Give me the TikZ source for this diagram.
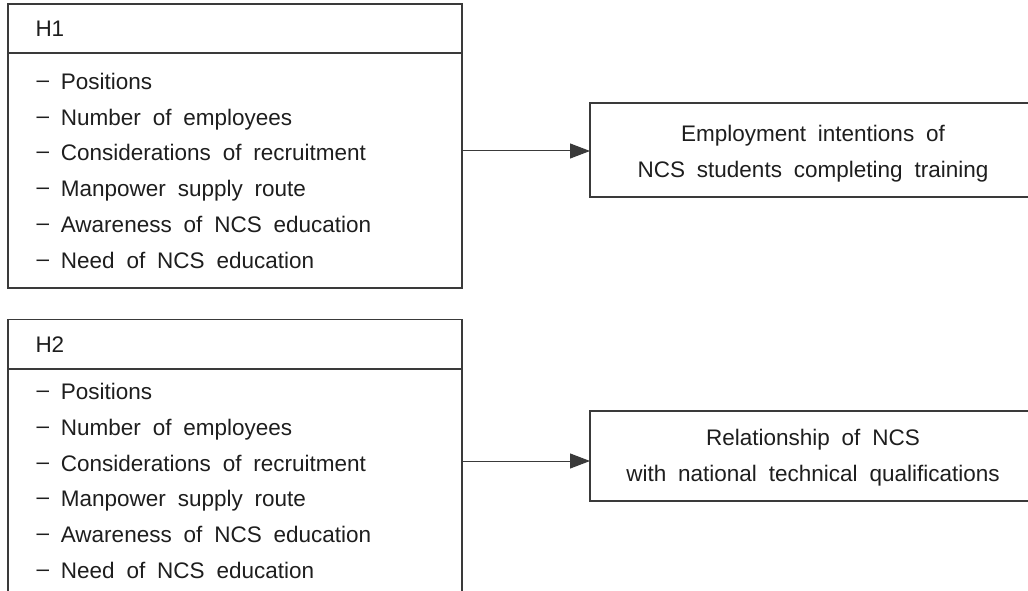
\documentclass[tikz,border=0pt]{standalone}
\usepackage{fontspec}
\setmainfont{Liberation Sans}[WordSpace=1.9]
\usetikzlibrary{arrows.meta}
\definecolor{linec}{HTML}{3A3A3A}
\definecolor{textc}{HTML}{1E1E1E}
\newcommand{\itm}[1]{\raisebox{2pt}{–} #1}
\tikzset{
  frame/.style={draw=linec, line width=1.3pt, inner sep=0pt, outer sep=0pt, anchor=north west},
  txt/.style={inner sep=0pt, outer sep=0pt, anchor=base west, text=textc, font=\fontsize{22.5}{30}\selectfont},
  ctxt/.style={inner sep=0pt, outer sep=0pt, anchor=base, text=textc, font=\fontsize{22.5}{30}\selectfont},
  arr/.style={draw=linec, line width=1pt, -{Triangle[length=20pt,width=15pt]}},
}
\begin{document}
\begin{tikzpicture}[x=1pt,y=-1pt]
\useasboundingbox (0,0) rectangle (1028,591);
\fill[white] (0,0) rectangle (1028,591);
\begin{scope}
\clip (0,0) rectangle (1028,591);
% H1 box
\node[frame, minimum width=454pt, minimum height=284pt] (h1) at (8,4) {};
\coordinate (h1l) at (8,53);
\draw[linec, line width=1.3pt] (h1l) -- (h1l -| h1.east);
\node[txt] (h1t) at (35.5,36.7) {H1};
\node[txt] (h1a) at (36.5,89.3) {\itm{Positions}};
\node[txt] (h1b) at (36.5,125.1) {\itm{Number of employees}};
\node[txt] (h1c) at (36.5,160.9) {\itm{Considerations of recruitment}};
\node[txt] (h1d) at (36.5,196.7) {\itm{Manpower supply route}};
\node[txt] (h1e) at (36.5,232.5) {\itm{Awareness of NCS education}};
\node[txt] (h1f) at (36.5,268.3) {\itm{Need of NCS education}};
% H2 box
\node[frame, minimum width=454pt, minimum height=300pt] (h2) at (8,319.3) {};
\coordinate (h2l) at (8,369);
\draw[linec, line width=1.3pt] (h2l) -- (h2l -| h2.east);
\node[txt] (h2t) at (35.5,352.3) {H2};
\node[txt] (h2a) at (36.5,399.5) {\itm{Positions}};
\node[txt] (h2b) at (36.5,435.3) {\itm{Number of employees}};
\node[txt] (h2c) at (36.5,471.1) {\itm{Considerations of recruitment}};
\node[txt] (h2d) at (36.5,506.9) {\itm{Manpower supply route}};
\node[txt] (h2e) at (36.5,542.7) {\itm{Awareness of NCS education}};
\node[txt] (h2f) at (36.5,578.5) {\itm{Need of NCS education}};
% right boxes
\node[frame, minimum width=446pt, minimum height=94pt] (e1) at (590,103) {};
\node[ctxt] (e1a) at (813,141.7) {Employment intentions of};
\node[ctxt] (e1b) at (813,177.4) {NCS students completing training};
\node[frame, minimum width=446pt, minimum height=90pt] (e2) at (590,411) {};
\node[ctxt] (e2a) at (813,445.9) {Relationship of NCS};
\node[ctxt] (e2b) at (813,481.7) {with national technical qualifications};
% connectors
\coordinate (s1) at (462,151);
\coordinate (s2) at (462,461);
\draw[arr] (s1) -- (s1 -| e1.west);
\draw[arr] (s2) -- (s2 -| e2.west);
\end{scope}
\end{tikzpicture}
\end{document}
